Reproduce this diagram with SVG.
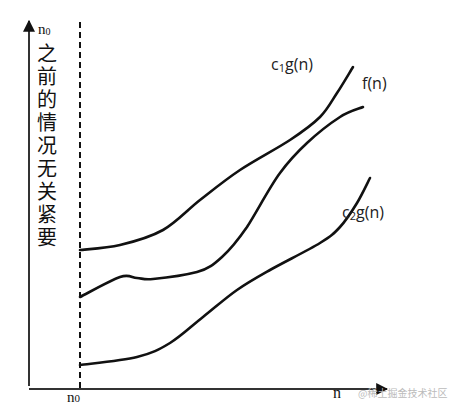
<svg xmlns="http://www.w3.org/2000/svg" width="455" height="408" viewBox="0 0 455 408">
<style>
.curve{fill:none;stroke:#111;stroke-width:2.6;stroke-linecap:round}
.axis{fill:none;stroke:#333;stroke-width:2}
.lbl{font-family:"Open Sans","Liberation Sans",sans-serif;font-size:16px;fill:#222}
.cjk{font-family:"Noto Sans CJK SC","Noto Sans CJK JP",sans-serif;font-size:20px;fill:#111;writing-mode:vertical-rl;letter-spacing:3px}
.ser{font-family:"Liberation Serif",serif;fill:#111}
</style>
<defs>
<marker id="arrUp" viewBox="0 0 10 10" refX="9" refY="5" markerWidth="12" markerHeight="12" orient="auto" markerUnits="userSpaceOnUse">
<path d="M0,0 L10,5 L0,10 z" fill="#111"/>
</marker>
</defs>
<rect width="455" height="408" fill="#ffffff"/>
<g id="axes">
<line class="axis" x1="29" y1="386" x2="29" y2="21" marker-end="url(#arrUp)"/>
<line class="axis" x1="29" y1="389" x2="387" y2="389" marker-end="url(#arrUp)"/>
<line x1="80" y1="22" x2="80" y2="389" stroke="#111" stroke-width="2" stroke-dasharray="6,4"/>
</g>
<g id="connectors">
<path id="c1" class="curve" d="M80,250 C86.7,249.2 106.2,248.3 120,245 C133.8,241.7 149.7,237.5 163,230 C176.3,222.5 187.2,210 200,200 C212.8,190 225,180 240,170 C255,160 276.7,148.8 290,140 C303.3,131.2 312.2,124.8 320,117 C327.8,109.2 331.5,101.3 337,93 C342.5,84.7 350.3,71.3 353,67"/>
<path id="f" class="curve" d="M80,297 C86.7,293.7 110.5,280.2 120,277 C129.5,273.8 131.5,277.7 137,278 C142.5,278.3 143,280 153,279 C163,278 185.5,275 197,272 C208.5,269 213.7,264.5 222,257 C230.3,249.5 237.3,241 247,227 C256.7,212 270,186.3 280,173 C290,159.3 297,152.3 307,143 C317,133.7 330.7,123 340,117 C349.3,111 359.2,108.7 363,107"/>
<path id="c2" class="curve" d="M80,365 C89.5,363.7 122,360.7 137,357 C152,353.3 159,349.7 170,343 C181,336.3 191.8,325.8 203,317 C214.2,308.2 225.8,297.8 237,290 C248.2,282.2 256.2,277.8 270,270 C283.8,262.2 308.3,250.2 320,243 C331.7,235.8 333.8,233.7 340,227 C346.2,220.3 352,211.2 357,203 C362,194.8 367.8,182.2 370,178"/>
</g>
<g id="label-c1"><text class="lbl" x="271" y="70">c<tspan font-size="11" dy="2">1</tspan><tspan dy="-2">g(n)</tspan></text></g>
<g id="label-f"><text class="lbl" x="362" y="89">f(n)</text></g>
<g id="label-c2"><text class="lbl" x="342" y="218">c<tspan font-size="11" dy="2">2</tspan><tspan dy="-2">g(n)</tspan></text></g>
<g id="label-y">
<text class="ser" x="38" y="34" font-size="15">n<tspan font-size="10" dy="1">0</tspan></text>
<text class="cjk" x="47" y="43">之前的情况无关紧要</text>
</g>
<g id="label-n0"><text class="ser" x="67" y="402" font-size="15">n<tspan font-size="11">0</tspan></text></g>
<g id="label-n"><text class="ser" x="333" y="398" font-size="16">n</text></g>
<g id="watermark"><text x="358" y="397" font-family="Noto Sans CJK SC,sans-serif" font-size="10" fill="#bbb">@稀土掘金技术社区</text></g>
</svg>
